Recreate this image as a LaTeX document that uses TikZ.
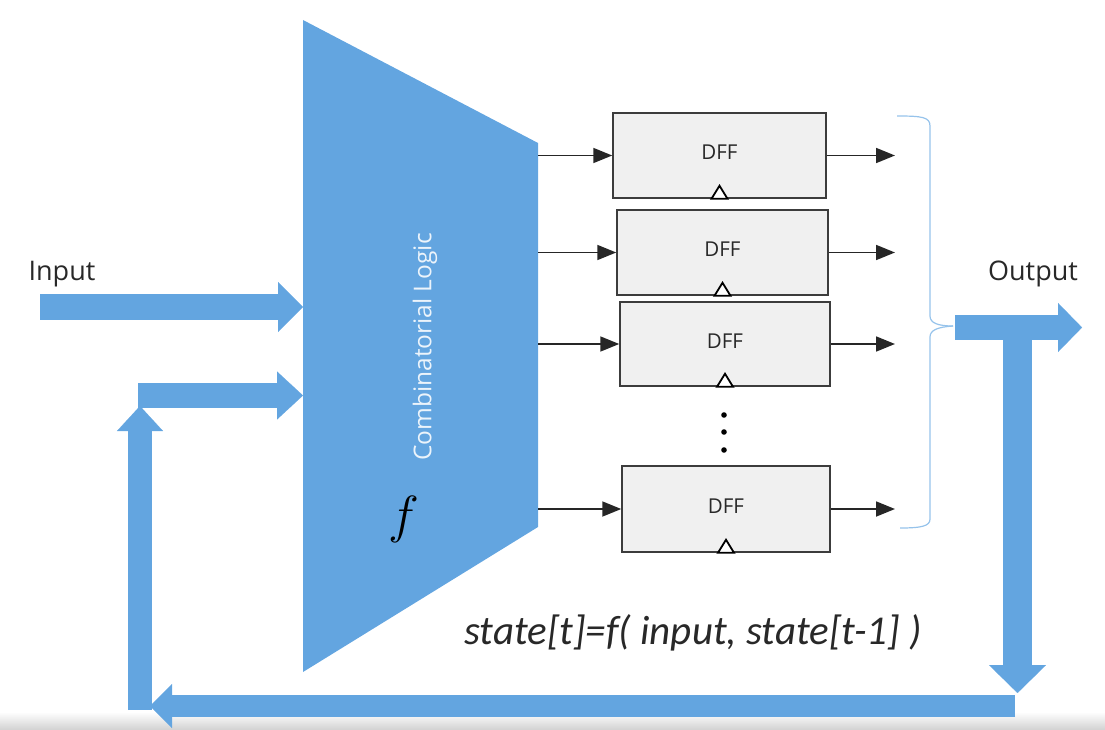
\documentclass[tikz,border=0pt]{standalone}
\usepackage{fontspec}
\setmainfont{Open Sans}
\newfontfamily\calibfont{Carlito}
\usetikzlibrary{arrows.meta}
\definecolor{bl}{RGB}{99,165,224}
\definecolor{dffill}{RGB}{240,240,240}
\definecolor{dfdraw}{RGB}{60,60,60}
\definecolor{bracec}{RGB}{150,195,235}
\definecolor{lbl}{RGB}{40,40,40}
\definecolor{clw}{RGB}{236,244,251}
\begin{document}
\begin{tikzpicture}[x=1pt,y=-1pt,
  fatarrow/.style n args={3}{draw=bl, line width=#1, -{Triangle[width=#2,length=#3,line width=0.1pt]}},
  dff/.style={draw=dfdraw, fill=dffill, line width=1.5pt, inner sep=0pt},
  sig/.style={draw=black!85, line width=1.8pt, -{Triangle[length=19pt,width=15pt]}},
  clk/.style={draw=black, fill=white, line width=1.8pt, line join=miter},
  lab/.style={font=\fontsize{27}{27}\selectfont, text=lbl},
  dfflab/.style={font=\fontsize{20.5}{20.5}\selectfont, text=lbl},
  bracestyle/.style={draw=bracec, line width=1.2pt}
]
\useasboundingbox (0,0) rectangle (1105,730);
\shade[top color=white, bottom color=black!18] (0,712) rectangle (1105,730);

% combinational logic block
\coordinate (tl) at (303,20);
\coordinate (tr) at (538,143);
\coordinate (br) at (538,527);
\coordinate (bl) at (303,672);
\fill[bl] (tl) -- (tr) -- (br) -- (bl) -- cycle;
\node[rotate=90, text=clw, font=\fontsize{24.5}{25}\selectfont] (cl) at (425,347) {Combinatorial Logic};
\node[font=\fontsize{24.88}{25}\selectfont, inner sep=0pt] (fsym) at (404,519) {\scalebox{2.1}{$f$}};

% DFFs
\node[dff, minimum width=213pt, minimum height=85pt] (d1) at (719.5,155.5) {};
\node[dff, minimum width=211pt, minimum height=85pt] (d2) at (722.5,252.5) {};
\node[dff, minimum width=210pt, minimum height=84pt] (d3) at (725,344) {};
\node[dff, minimum width=208pt, minimum height=86pt] (d4) at (726,509) {};
\foreach \d in {d1,d2,d3,d4}{
  \node[dfflab] (\d lab) at ([yshift=3pt]\d.center) {DFF};
  \draw[clk] ([xshift=-8pt]\d.south) -- ([yshift=13pt]\d.south) -- ([xshift=8pt]\d.south) -- cycle;
}
\foreach \yy [count=\i] in {415,432,450}{
  \fill[black] (724,\yy) circle (2.8pt);
}

% signal lines
\coordinate (oe) at (895,0);
\foreach \d in {d1,d2,d3,d4}{
  \draw[sig] (tr |- \d.west) -- (\d.west);
  \draw[sig] (\d.east) -- (oe |- \d.east);
}

% brace
\draw[bracestyle] (897,116) .. controls (922,116) and (930,117) .. (930,126)
  -- (930,316) .. controls (930,323) and (938,326) .. (953,326);
\draw[bracestyle] (953,326) .. controls (938,327) and (930,330) .. (930,337)
  -- (930,519) .. controls (930,526) and (922,528) .. (900,528);

% labels
\node[lab] (inlab) at (62,274) {Input};
\node[lab] (outlab) at (1033,274) {Output};
\node[font=\calibfont\itshape\fontsize{41}{41}\selectfont, text=lbl] (eq) at (693,633) {state[t]=f( input, state[t-1] )};

% fat arrows
\coordinate (in0) at (40,307);
\draw[fatarrow={26pt}{50pt}{25pt}] (in0) -- (tl |- in0);
\coordinate (o0) at (955,327.5);
\coordinate (o1) at (1082,327.5);
\draw[fatarrow={25pt}{49pt}{24pt}] (o0) -- (o1);
\coordinate (dn0) at (1017.5,333);
\coordinate (dn1) at (1017.5,693);
\draw[fatarrow={29pt}{57pt}{28pt}] (dn0) -- (dn1);
\coordinate (b0) at (1015,706);
\coordinate (b1) at (150,706);
\draw[fatarrow={22pt}{44pt}{22pt}] (b0) -- (b1);
\coordinate (u0) at (140,710);
\coordinate (u1) at (140,406);
\draw[fatarrow={24pt}{46pt}{25pt}] (u0) -- (u1);
\coordinate (f0) at (138,395.5);
\draw[fatarrow={25pt}{48pt}{26pt}] (f0) -- (tl |- f0);
\end{tikzpicture}
\end{document}
